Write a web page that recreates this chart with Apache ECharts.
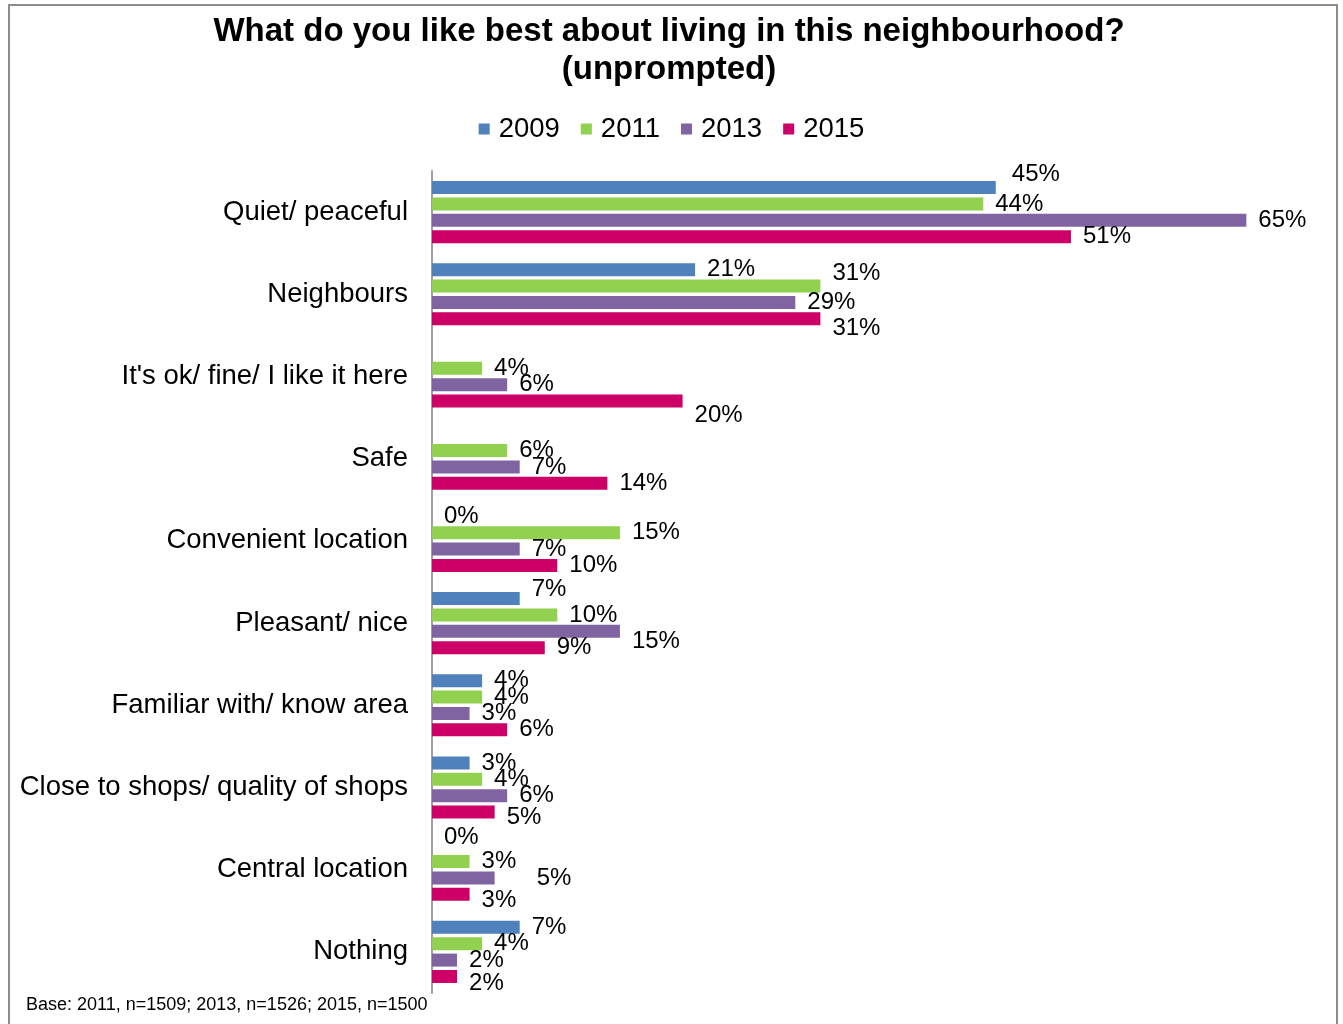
<!DOCTYPE html>
<html>
<head>
<meta charset="utf-8">
<title>What do you like best about living in this neighbourhood?</title>
<script src="https://cdn.jsdelivr.net/npm/echarts@6/dist/echarts.min.js"></script>
<style>
  html, body { margin: 0; padding: 0; background: #ffffff; }
  #chart { width: 1343px; height: 1024px; }
</style>
</head>
<body>
<div id="chart"></div>
<script>
// Survey answers, top to bottom
const categories = [
  'Quiet/ peaceful',
  'Neighbours',
  "It's ok/ fine/ I like it here",
  'Safe',
  'Convenient location',
  'Pleasant/ nice',
  'Familiar with/ know area',
  'Close to shops/ quality of shops',
  'Central location',
  'Nothing'
];

const years = ['2009', '2011', '2013', '2015'];

// Percentages per wave (null = not recorded that year)
const values2009 = [45, 21, null, null, 0, 7, 4, 3, 0, 7];
const values2011 = [44, 31, 4, 6, 15, 10, 4, 4, 3, 4];
const values2013 = [65, 29, 6, 7, 7, 15, 3, 6, 5, 2];
const values2015 = [51, 31, 20, 14, 10, 9, 6, 5, 3, 2];

const seriesValues = [values2009, values2011, values2013, values2015];
const colors = ['#4F81BD', '#92D050', '#8064A2', '#CC0066'];

// Hand-placed label shifts [dx, dy] to keep crowded labels readable
const labelNudges = {
  '0|0': [4, -13],
  '1|1': [0, -13],
  '1|3': [0, 10],
  '2|3': [0, 14],
  '5|0': [0, -9],
  '5|2': [0, 10],
  '7|3': [0, 5],
  '8|0': [0, -8],
  '8|2': [30, 0],
  '8|3': [0, 6],
  '9|3': [0, 7]
};

const FONT = '"Liberation Sans", Arial, sans-serif';

const series = years.map((year, s) => ({
  name: year,
  type: 'bar',
  barWidth: 13,
  barGap: '26%',
  itemStyle: { color: colors[s] },
  label: {
    show: true,
    position: 'right',
    distance: 12,
    fontFamily: FONT,
    fontSize: 24,
    color: '#000',
    formatter: p => p.value == null ? '' : p.value + '%'
  },
  data: seriesValues[s].map((v, i) => {
    const nudge = labelNudges[i + '|' + s];
    return nudge ? { value: v, label: { offset: nudge } } : v;
  })
}));

const chart = echarts.init(document.getElementById('chart'), null, { renderer: 'canvas' });

chart.setOption({
  animation: false,
  backgroundColor: '#ffffff',
  title: {
    text: 'What do you like best about living in this neighbourhood?\n(unprompted)',
    left: 664,
    textAlign: 'center',
    top: 8,
    textStyle: {
      fontFamily: FONT,
      fontSize: 33,
      fontWeight: 'bold',
      color: '#000',
      lineHeight: 38
    }
  },
  legend: {
    data: years,
    top: 110,
    left: 'center',
    icon: 'rect',
    itemWidth: 11,
    itemHeight: 11,
    itemGap: 21,
    textStyle: {
      fontFamily: FONT,
      fontSize: 27.5,
      color: '#000',
      padding: [0, 0, 0, 4]
    }
  },
  grid: {
    left: 432,
    top: 171,
    height: 822,
    right: 34,
    containLabel: false
  },
  xAxis: {
    type: 'value',
    min: 0,
    max: 70,
    show: false
  },
  yAxis: {
    type: 'category',
    data: categories,
    inverse: true,
    axisLine: { show: true, lineStyle: { color: '#A0A0A0', width: 2 } },
    axisTick: { show: false },
    axisLabel: {
      fontFamily: FONT,
      fontSize: 27.5,
      color: '#000',
      margin: 24
    },
    splitLine: { show: false }
  },
  series: series,
  graphic: [
    {
      type: 'rect',
      shape: { x: 9, y: 5, width: 1328, height: 1040 },
      style: { fill: 'none', stroke: '#8C8C8C', lineWidth: 2 },
      silent: true
    },
    {
      type: 'text',
      left: 26,
      top: 996,
      style: {
        text: 'Base: 2011, n=1509; 2013, n=1526; 2015, n=1500',
        font: '18px "Liberation Sans", Arial, sans-serif',
        fill: '#000'
      }
    }
  ]
});
</script>
</body>
</html>
